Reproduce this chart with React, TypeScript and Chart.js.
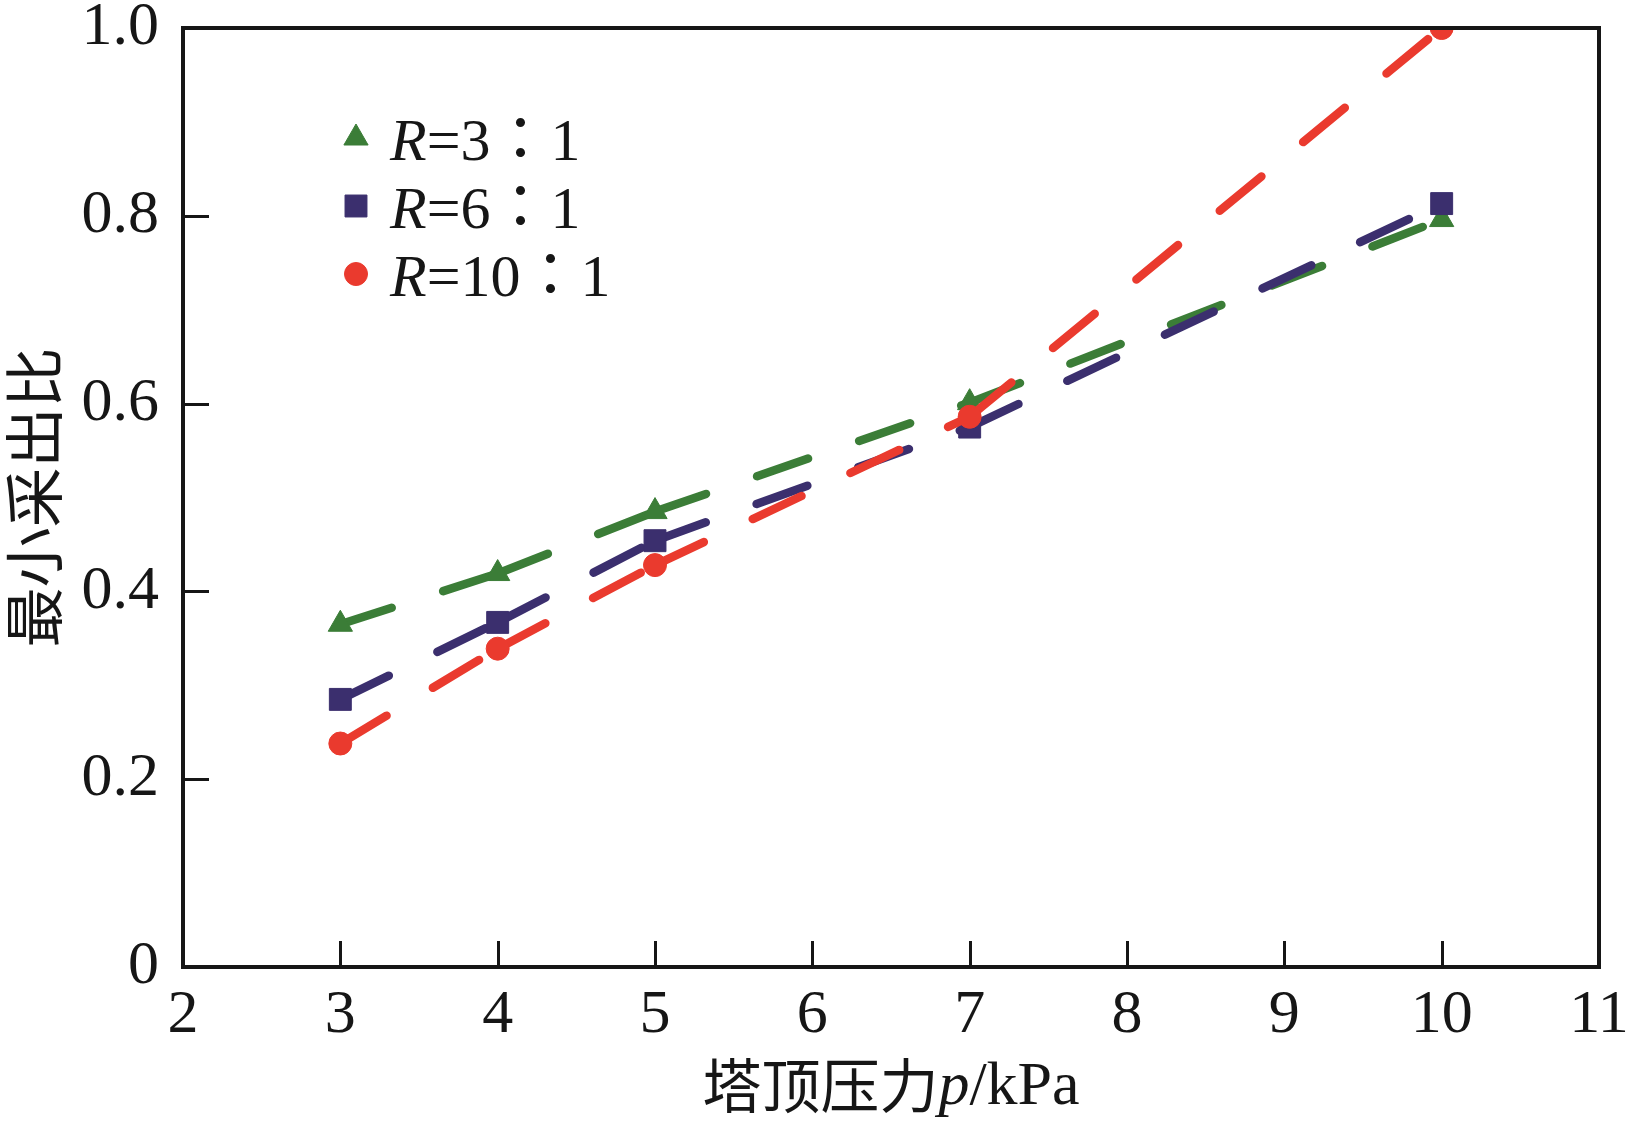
import { useEffect, useRef } from 'react';
import { Chart, registerables } from 'chart.js';
import { drawPoint } from 'chart.js/helpers';

Chart.register(...registerables);

// tower top pressure, kPa
const pressure = [3, 4, 5, 7, 10];
// minimum take-off ratio for each reflux ratio R
const ratioR3 = [0.365, 0.419, 0.485, 0.601, 0.796];
const ratioR6 = [0.285, 0.367, 0.454, 0.575, 0.813];
const ratioR10 = [0.238, 0.339, 0.428, 0.586, 1.0];

const legendValues = ['3', '6', '10'];
const xTicks = [2, 3, 4, 5, 6, 7, 8, 9, 10, 11];
const yTicks = [0, 0.2, 0.4, 0.6, 0.8, 1.0];

const INK = '#161616';
const GREEN = '#3b7d37';
const PURPLE = '#3b2f6e';
const RED = '#ea3a2e';
const SERIF = '"Liberation Serif", "Times New Roman", serif';
const CJK = '"Noto Sans CJK SC", sans-serif';
const CJK_TC = '"Noto Sans CJK TC", sans-serif';

const legendItems = [
  { value: legendValues[0], color: GREEN, style: 'triangle', radius: 14 },
  { value: legendValues[1], color: PURPLE, style: 'rect', radius: 15.5 },
  { value: legendValues[2], color: RED, style: 'circle', radius: 11.5 },
];

const toPoints = (ys: number[]) => ys.map((y, i) => ({ x: pressure[i], y }));

const framePlugin = {
  id: 'frameAndLabels',
  afterDraw(chart: Chart) {
    const { ctx, chartArea: a, scales } = chart;
    const xs = scales.x;
    const ys = scales.y;
    ctx.save();

    // inward ticks
    ctx.strokeStyle = INK;
    ctx.lineWidth = 3;
    ctx.beginPath();
    xTicks.slice(1, -1).forEach((v) => {
      const px = Math.round(xs.getPixelForValue(v)) + 0.5;
      ctx.moveTo(px, a.bottom);
      ctx.lineTo(px, a.bottom - 26);
    });
    yTicks.slice(1, -1).forEach((v) => {
      const py = Math.round(ys.getPixelForValue(v)) + 0.5;
      ctx.moveTo(a.left, py);
      ctx.lineTo(a.left + 26, py);
    });
    ctx.stroke();

    // frame
    ctx.lineWidth = 4;
    ctx.strokeRect(a.left, a.top, a.right - a.left, a.bottom - a.top);

    // legend
    legendItems.forEach((item, i) => {
      const mx = a.left + 173;
      const my = a.top + 110 + i * 68;
      ctx.fillStyle = item.color;
      ctx.strokeStyle = item.color;
      ctx.lineWidth = 1;
      drawPoint(ctx, { pointStyle: item.style, radius: item.radius, rotation: 0, borderWidth: 1 } as any, mx, my);
      ctx.fillStyle = INK;
      ctx.textAlign = 'left';
      ctx.textBaseline = 'alphabetic';
      let tx = mx + 34;
      const base = my + 22;
      const pieces = [
        { text: 'R', font: `italic 60px ${SERIF}` },
        { text: '=' + item.value, font: `60px ${SERIF}` },
        { text: '：', font: `60px ${CJK_TC}` },
        { text: '1', font: `60px ${SERIF}` },
      ];
      pieces.forEach((p) => {
        ctx.font = p.font;
        ctx.fillText(p.text, tx, base);
        tx += ctx.measureText(p.text).width;
      });
    });

    // x axis title: 塔顶压力p/kPa
    ctx.fillStyle = INK;
    ctx.textBaseline = 'alphabetic';
    ctx.textAlign = 'left';
    const parts = [
      { text: '塔顶压力', font: `59px ${CJK}` },
      { text: 'p', font: `italic 62px ${SERIF}` },
      { text: '/kPa', font: `62px ${SERIF}` },
    ];
    let total = 0;
    parts.forEach((p) => {
      ctx.font = p.font;
      total += ctx.measureText(p.text).width;
    });
    let x0 = (a.left + a.right) / 2 - total / 2;
    const baseY = a.bottom + 137;
    parts.forEach((p) => {
      ctx.font = p.font;
      ctx.fillText(p.text, x0, p.font.includes('CJK') ? baseY + 4 : baseY);
      x0 += ctx.measureText(p.text).width;
    });

    // y axis title
    ctx.translate(34, (a.top + a.bottom) / 2);
    ctx.rotate(-Math.PI / 2);
    ctx.font = `60px ${CJK}`;
    ctx.textAlign = 'center';
    ctx.textBaseline = 'middle';
    ctx.fillText('最小采出比', 0, 0);

    ctx.restore();
  },
};

export default function App() {
  const canvasRef = useRef<HTMLCanvasElement | null>(null);

  useEffect(() => {
    if (!canvasRef.current) return;

    const line = (data: number[], color: string, style: string, radius: number) => ({
      data: toPoints(data),
      borderColor: color,
      backgroundColor: color,
      borderWidth: 8.5,
      borderCapStyle: 'round' as const,
      borderDash: [54, 54],
      // restart the dash pattern at every measured point
      segment: { borderDashOffset: (ctx: any) => ctx.p0DataIndex * 0.001 },
      pointStyle: style,
      pointRadius: radius,
      pointBorderWidth: 1,
      pointBorderColor: color,
      pointBackgroundColor: color,
      tension: 0,
      clip: 0,
    });

    const chart = new Chart(canvasRef.current, {
      type: 'line',
      data: {
        datasets: [
          { label: 'R=10：1', ...line(ratioR10, RED, 'circle', 11.5) },
          { label: 'R=6：1', ...line(ratioR6, PURPLE, 'rect', 15.5) },
          { label: 'R=3：1', ...line(ratioR3, GREEN, 'triangle', 14) },
        ],
      },
      options: {
        animation: false,
        responsive: false,
        devicePixelRatio: 1,
        layout: { padding: { top: 28, right: 41, left: 0, bottom: 0 } },
        plugins: {
          legend: { display: false },
          tooltip: { enabled: false },
        },
        scales: {
          x: {
            type: 'linear',
            min: 2,
            max: 11,
            afterFit: (scale: any) => {
              scale.height = 161;
              scale.paddingLeft = 0;
              scale.paddingRight = 0;
            },
            afterBuildTicks: (scale: any) => {
              scale.ticks = xTicks.map((v) => ({ value: v }));
            },
            ticks: {
              color: INK,
              padding: 12,
              maxRotation: 0,
              autoSkip: false,
              font: { family: SERIF, size: 62 },
            },
            grid: { display: false, drawTicks: false },
            border: { display: false },
          },
          y: {
            min: 0,
            max: 1,
            afterFit: (scale: any) => {
              scale.width = 183;
              scale.paddingTop = 0;
              scale.paddingBottom = 0;
            },
            afterBuildTicks: (scale: any) => {
              scale.ticks = yTicks.map((v) => ({ value: v }));
            },
            ticks: {
              color: INK,
              padding: 24,
              font: { family: SERIF, size: 62, lineHeight: 0.9 },
              callback: (v: string | number) => (Number(v) === 0 ? '0' : Number(v).toFixed(1)),
            },
            grid: { display: false, drawTicks: false },
            border: { display: false },
          },
        },
      },
      plugins: [framePlugin],
    });

    return () => {
      chart.destroy();
    };
  }, []);

  return (
    <div style={{ position: 'absolute', left: 0, top: 0, width: 1640, height: 1128, background: '#fff' }}>
      <canvas ref={canvasRef} width={1640} height={1128} style={{ display: 'block' }} />
    </div>
  );
}
